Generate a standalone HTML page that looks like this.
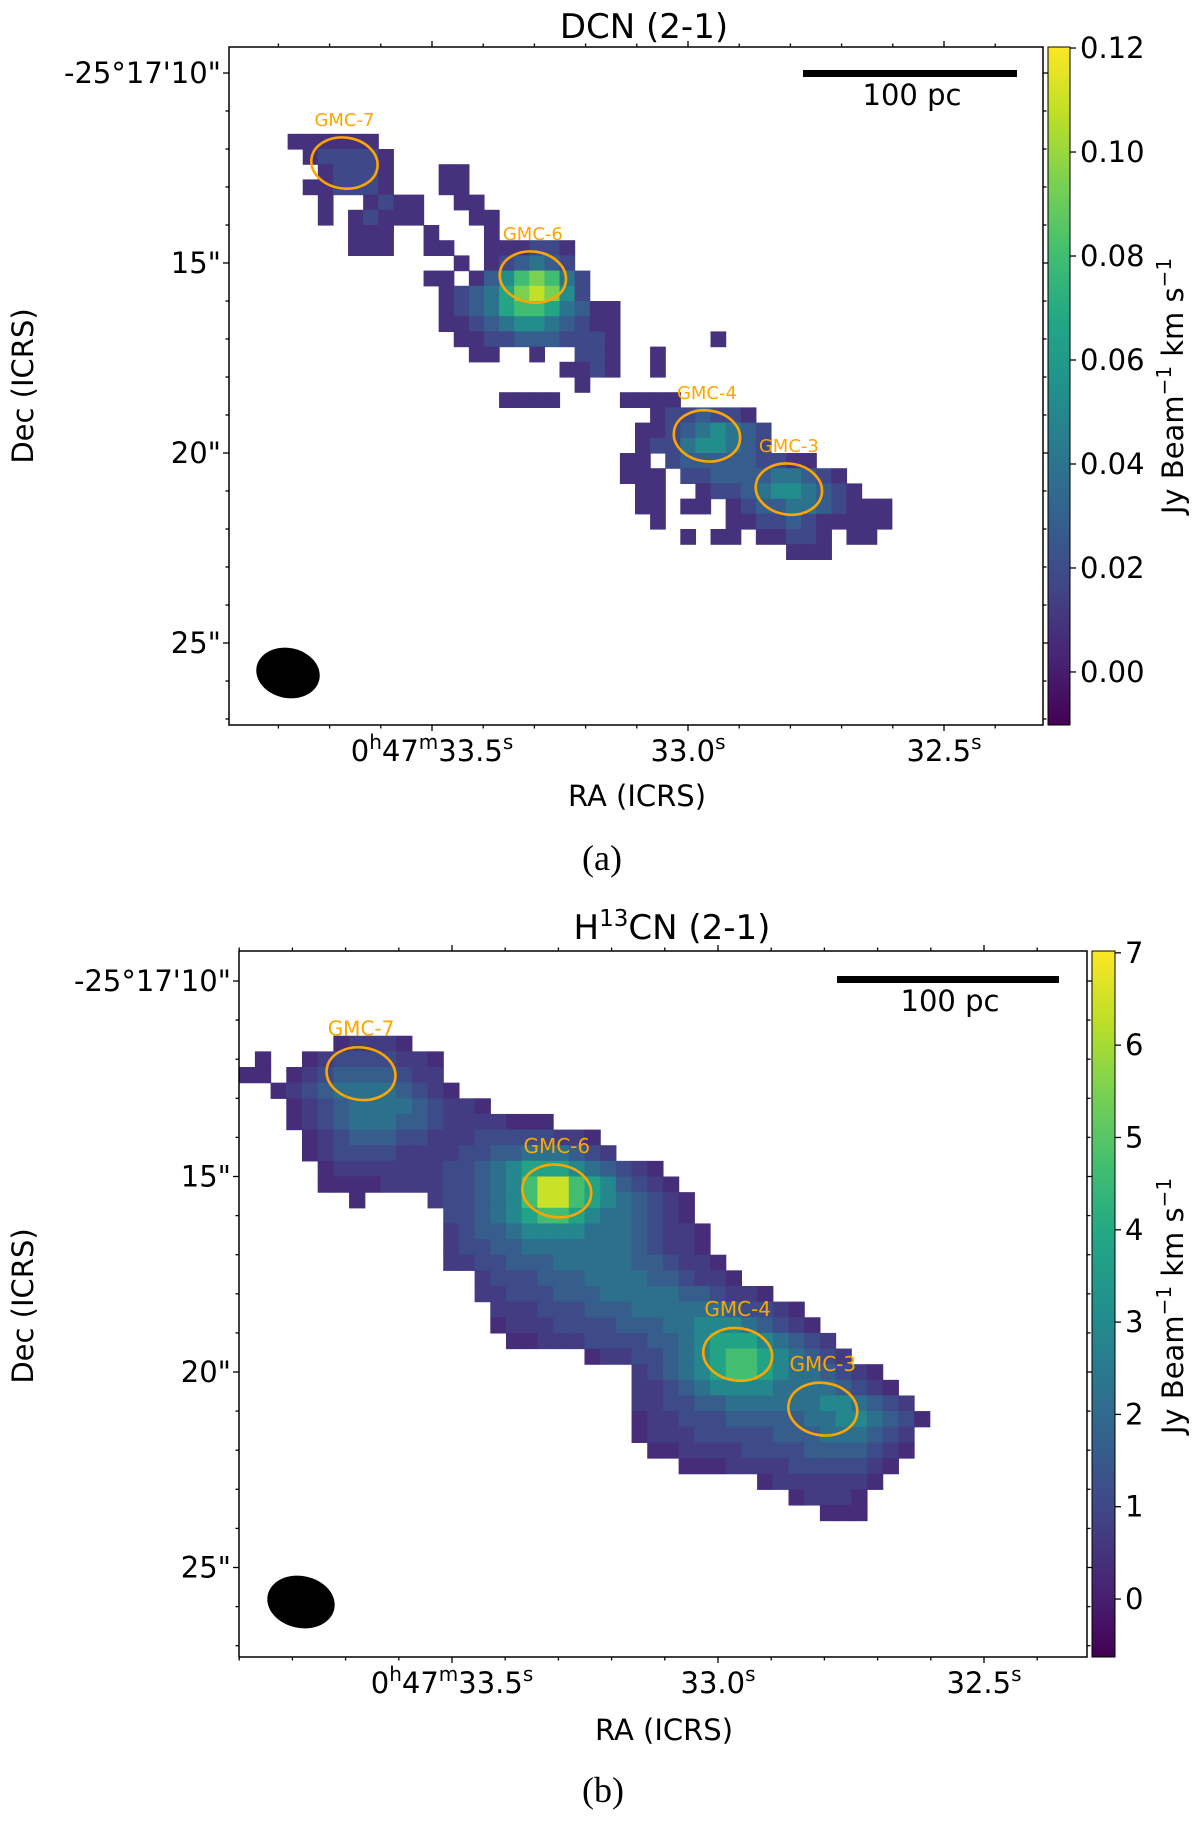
<!DOCTYPE html>
<html><head><meta charset="utf-8"><style>
html,body{margin:0;padding:0;background:#fff;}
svg{display:block;font-family:"DejaVu Sans","Liberation Sans",sans-serif;}
</style></head><body>
<svg id="fig" width="1200" height="1822" viewBox="0 0 1200 1822" xmlns="http://www.w3.org/2000/svg">
<defs>
<linearGradient id="vir" x1="0" y1="1" x2="0" y2="0">
<stop offset="0" stop-color="#440154"/><stop offset="0.1" stop-color="#482475"/><stop offset="0.2" stop-color="#414487"/><stop offset="0.3" stop-color="#355f8d"/><stop offset="0.4" stop-color="#2a788e"/><stop offset="0.5" stop-color="#21918c"/><stop offset="0.6" stop-color="#22a884"/><stop offset="0.7" stop-color="#44bf70"/><stop offset="0.8" stop-color="#7ad151"/><stop offset="0.9" stop-color="#bddf26"/><stop offset="1" stop-color="#fde725"/>
</linearGradient>
<clipPath id="clipTop"><rect x="229" y="47" width="814" height="678"/></clipPath>
<clipPath id="clipBot"><rect x="239" y="951" width="848" height="706"/></clipPath>
</defs>

<g>
<text x="644" y="38" font-size="34" text-anchor="middle">DCN (2-1)</text>
<g id="mapTop" clip-path="url(#clipTop)"></g>
<rect x="229" y="47" width="814" height="678" fill="none" stroke="#000" stroke-width="1.5"/>
<g id="ticksTop"></g>
<rect x="803" y="70" width="214" height="7" fill="#000"/>
<text x="912" y="105" font-size="29" text-anchor="middle">100 pc</text>
<ellipse cx="288" cy="673" rx="32" ry="25" fill="#000" transform="rotate(12 288 673)"/>
<rect x="1048" y="47" width="22" height="678" fill="url(#vir)" stroke="#000" stroke-width="1"/>
<text transform="translate(1183 386) rotate(-90)" font-size="29" text-anchor="middle">Jy Beam<tspan font-size="20" dy="-12">−1</tspan><tspan dy="12"> km s</tspan><tspan font-size="20" dy="-12">−1</tspan></text>
<text transform="translate(33 386) rotate(-90)" font-size="29" text-anchor="middle">Dec (ICRS)</text>
<text x="637" y="806" font-size="29" text-anchor="middle">RA (ICRS)</text>
<text x="602" y="870" font-size="36" text-anchor="middle" font-family="Liberation Serif, serif">(a)</text>
</g>

<g>
<text x="672" y="939" font-size="34" text-anchor="middle">H<tspan font-size="23" dy="-13">13</tspan><tspan dy="13">CN (2-1)</tspan></text>
<g id="mapBot" clip-path="url(#clipBot)"></g>
<rect x="239" y="951" width="848" height="706" fill="none" stroke="#000" stroke-width="1.5"/>
<g id="ticksBot"></g>
<rect x="837" y="976" width="222" height="7" fill="#000"/>
<text x="950" y="1011" font-size="29" text-anchor="middle">100 pc</text>
<ellipse cx="301" cy="1602" rx="34" ry="26" fill="#000" transform="rotate(12 301 1602)"/>
<rect x="1092" y="951" width="23" height="706" fill="url(#vir)" stroke="#000" stroke-width="1"/>
<text transform="translate(1183 1306) rotate(-90)" font-size="29" text-anchor="middle">Jy Beam<tspan font-size="20" dy="-12">−1</tspan><tspan dy="12"> km s</tspan><tspan font-size="20" dy="-12">−1</tspan></text>
<text transform="translate(33 1306) rotate(-90)" font-size="29" text-anchor="middle">Dec (ICRS)</text>
<text x="664" y="1740" font-size="29" text-anchor="middle">RA (ICRS)</text>
<text x="603" y="1802" font-size="36" text-anchor="middle" font-family="Liberation Serif, serif">(b)</text>
</g>
</svg>

<script>
const gmcNames = ["GMC-7","GMC-6","GMC-4","GMC-3"];
const gmcRA = [33.671, 33.303, 32.963, 32.803];
const gmcDec = [12.37, 15.37, 19.55, 20.95];

const decMajor = [10, 15, 20, 25];
const decLabels = ["-25°17'10\"", "15\"", "20\"", "25\""];
const raMajor = [33.5, 33.0, 32.5];
const raLabels = ["33.5", "33.0", "32.5"];

const dcnLevels = [0.003, 0.008, 0.018, 0.028, 0.04, 0.053, 0.066, 0.08, 0.094, 0.108];
const dcnTicks = [0.00, 0.02, 0.04, 0.06, 0.08, 0.10, 0.12];
const dcnTickLabels = ["0.00","0.02","0.04","0.06","0.08","0.10","0.12"];
const dcnRows = [
"4:111111",
"5:122221",
"6:12221 14:11",
"5:112221 14:11",
"6:1..1211 15:11",
"6:1.12111 16:11",
"8:111 13:1 17:1",
"8:111 13:11 17:111221",
"15:1 17:123432",
"13:11.13578742",
"14:1234689852",
"14:123467764311",
"14:112345543211",
"15:11223332221 32:1",
"16:11..1..221 28:1",
"22:1121 28:1",
"23:1",
"18:1111 26:1111",
"28:1223221",
"27:112345432",
"27:122455432",
"26:11.2333332211",
"26:111.22333344321",
"27:11..12234554321",
"27:11.11.12334432111",
"28:1 33:11223211111",
"30:1 32:11.11221.11",
"37:111"
];

const h13Levels = [0.05, 0.35, 0.7, 1.1, 1.6, 2.2, 2.9, 3.8, 4.7, 6.4];
const h13Ticks = [0, 1, 2, 3, 4, 5, 6, 7];
const h13TickLabels = ["0","1","2","3","4","5","6","7"];
const h13Rows = [
"6:12221",
"1:1 4:123333221",
"0:11 3:1234444322",
"2:123455554321",
"3:1234555543221",
"3:12345554432222111",
"4:1234443322233333221",
"4:12333322223344555432",
"5:1222222233456777654321",
"5:11112222334568998764321",
"7:1 12:23345689987654321",
"13:3345678876554321",
"13:23445666655543221",
"13:23344555555543221",
"13:223344455555443221",
"15:23334445555443221",
"15:2233344455555443221",
"16:22233344455555543321",
"16:122233334445566654321",
"17:112223333445677765432",
"22:12233456788765432",
"25:2345678876554321",
"25:22345666655554321",
"25:223344555555665432",
"25:1223334444455665431",
"25:122233333444555432",
"26:11222233334444321",
"28:11122223333321",
"33:12222221",
"35:12221",
"37:111"
];

const panels = {
  top: {box:{x:229,y:47,w:814,h:678}, xOf:ra=>432+(33.5-ra)*512, yOf:d=>73+(d-10)*38,
        ra0:33.9, dec0:11.6, dra:0.0295, ddec:0.4, vmin:-0.0102, vmax:0.1202,
        cb:{x:1048,w:22}, gmcFont:18, lblOff:1.13},
  bot: {box:{x:239,y:951,w:848,h:706}, xOf:ra=>452+(33.5-ra)*532, yOf:d=>981+(d-10)*39.1,
        ra0:33.9, dec0:11.4, dra:0.0295, ddec:0.4, vmin:-0.628, vmax:7.02,
        cb:{x:1092,w:23}, gmcFont:20, lblOff:1.13}
};
const NS="http://www.w3.org/2000/svg";
const vir=['#440154','#482475','#414487','#355f8d','#2a788e','#21918c','#22a884','#44bf70','#7ad151','#bddf26','#fde725'];
function hex(h){return [1,3,5].map(i=>parseInt(h.substr(i,2),16));}
function cmap(t){t=Math.max(0,Math.min(1,t));const f=t*10;const i=Math.min(9,Math.floor(f));const u=f-i;
  const a=hex(vir[i]),b=hex(vir[i+1]);return 'rgb('+a.map((v,k)=>Math.round(v+(b[k]-v)*u)).join(',')+')';}
function el(tag,attrs,parent){const e=document.createElementNS(NS,tag);for(const k in attrs)e.setAttribute(k,attrs[k]);parent.appendChild(e);return e;}

function drawMap(gid,rows,levels,p){
  const g=document.getElementById(gid);
  rows.forEach((row,r)=>{
    row.split(' ').forEach(seg=>{
      if(!seg)return;
      const parts=seg.split(':');const c0=+parts[0];
      [...parts[1]].forEach((ch,k)=>{
        if(ch==='.')return;
        const c=c0+k;const v=levels[+ch];
        const raL=p.ra0-c*p.dra, dT=p.dec0+r*p.ddec;
        const x1=p.xOf(raL),x2=p.xOf(raL-p.dra),y1=p.yOf(dT),y2=p.yOf(dT+p.ddec);
        const rc=el('rect',{x:x1.toFixed(2),y:y1.toFixed(2),width:(x2-x1+0.6).toFixed(2),height:(y2-y1+0.6).toFixed(2),fill:cmap((v-p.vmin)/(p.vmax-p.vmin))},g);
        
        
      });
    });
  });
  gmcNames.forEach((n,i)=>{
    const cx=p.xOf(gmcRA[i]),cy=p.yOf(gmcDec[i]);
    const rx=p.xOf(gmcRA[i]-0.065)-cx, ry=p.yOf(gmcDec[i]+0.67)-cy;
    const e=el('ellipse',{cx:cx,cy:cy,rx:rx,ry:ry,fill:'none',stroke:'#ffa500','stroke-width':2.6,transform:'rotate(8 '+cx+' '+cy+')'},g.parentNode);
    
    
    const t=el('text',{x:cx,y:p.yOf(gmcDec[i]-p.lblOff)+6,'font-size':p.gmcFont,'text-anchor':'middle',fill:'#ffa500'},g.parentNode);
    t.textContent=n;
    
    
  });
}

function drawTicks(gid,p,cbTicks,cbLabels){
  const g=document.getElementById(gid);const b=p.box;
  const line=(x1,y1,x2,y2)=>{const l=el('line',{x1:x1,y1:y1,x2:x2,y2:y2,stroke:'#000','stroke-width':1.3},g);
    
    };
  for(let d=9;d<=28;d++){const y=p.yOf(d);if(y<b.y||y>b.y+b.h)continue;
    const L=decMajor.includes(d)?6:3.5;line(b.x-L,y,b.x,y);line(b.x+b.w,y,b.x+b.w+L,y);}
  decMajor.forEach((d,i)=>{const t=el('text',{x:b.x-8,y:p.yOf(d)+10,'font-size':29,'text-anchor':'end'},g);
    t.textContent=decLabels[i];
    
    });
  for(let k=0;k<=20;k++){const ra=34.0-k*0.1;const x=p.xOf(ra);if(x<b.x-0.5||x>b.x+b.w+0.5)continue;
    const maj=raMajor.some(m=>Math.abs(m-ra)<1e-6);const L=maj?6:3.5;line(x,b.y+b.h,x,b.y+b.h+L);line(x,b.y-L,x,b.y);}
  raMajor.forEach((ra,i)=>{const t=el('text',{x:p.xOf(ra),y:b.y+b.h+36,'font-size':29,'text-anchor':'middle'},g);
    
    
    if(i===0){t.innerHTML='0<tspan font-size="20" dy="-12">h</tspan><tspan dy="12">47</tspan><tspan font-size="20" dy="-12">m</tspan><tspan dy="12">'+raLabels[i]+'</tspan><tspan font-size="20" dy="-12">s</tspan>';}
    else{t.innerHTML=raLabels[i]+'<tspan font-size="20" dy="-12">s</tspan>';}});
  const cbY=v=>b.y+b.h-(v-p.vmin)/(p.vmax-p.vmin)*b.h;
  cbTicks.forEach((v,i)=>{const y=cbY(v);line(p.cb.x+p.cb.w,y,p.cb.x+p.cb.w+6,y);
    const t=el('text',{x:p.cb.x+p.cb.w+10,y:y+10,'font-size':29},g);t.textContent=cbLabels[i];
    
    });
}

drawMap('mapTop',dcnRows,dcnLevels,panels.top);
drawMap('mapBot',h13Rows,h13Levels,panels.bot);
drawTicks('ticksTop',panels.top,dcnTicks,dcnTickLabels);
drawTicks('ticksBot',panels.bot,h13Ticks,h13TickLabels);
</script>
</body></html>
